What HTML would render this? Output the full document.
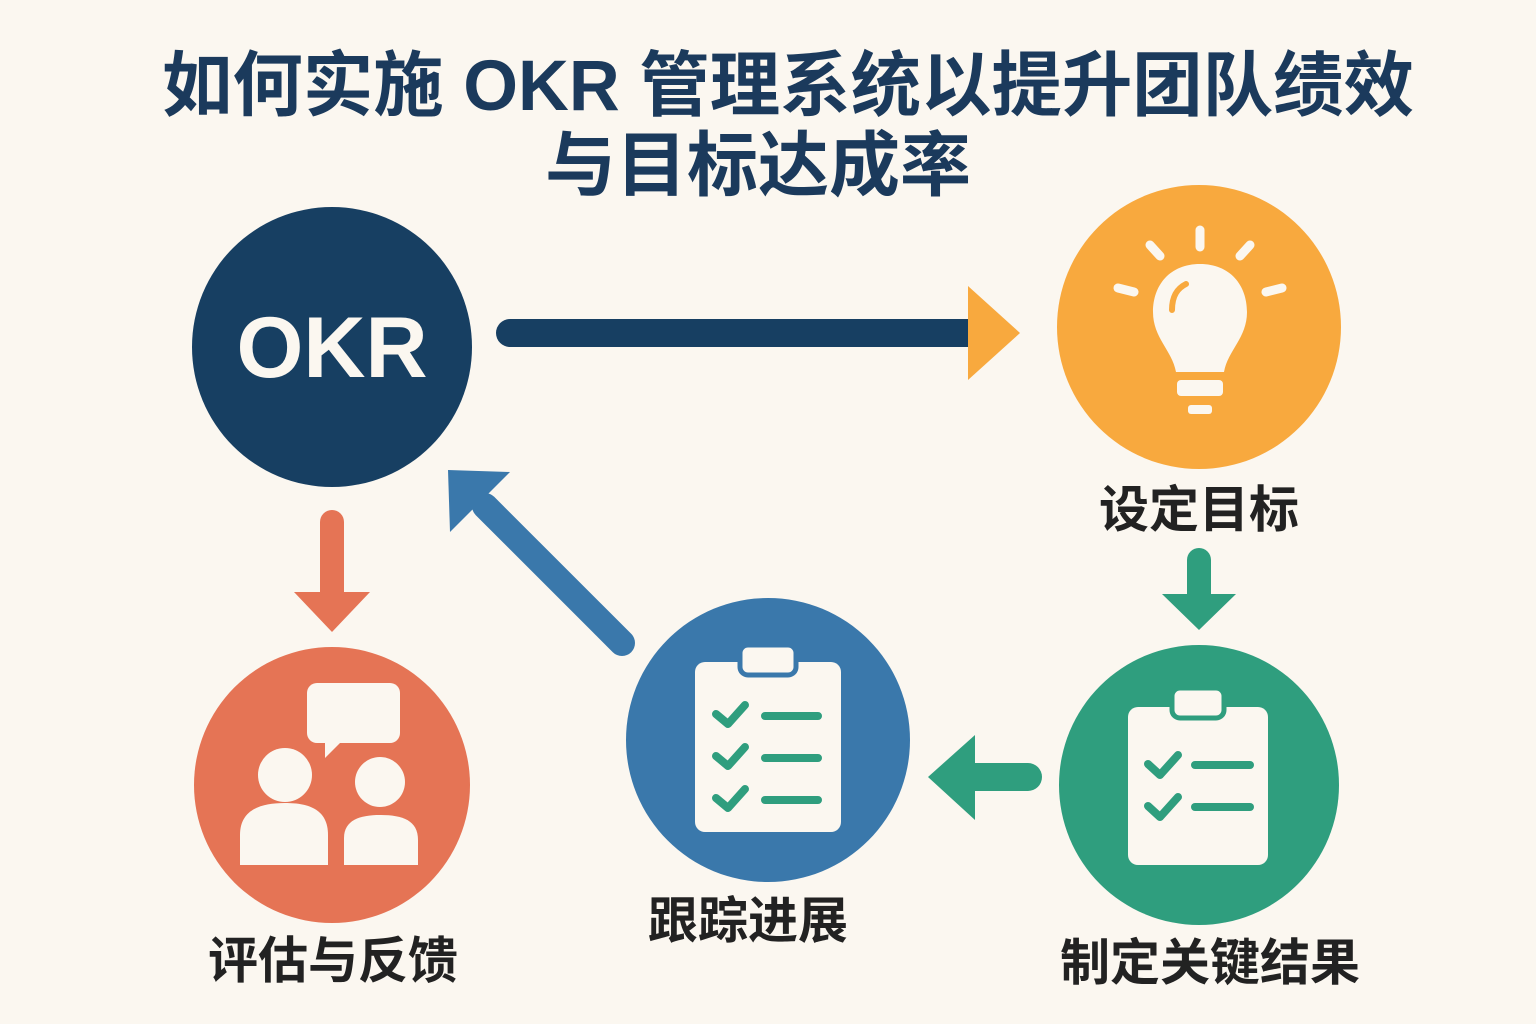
<!DOCTYPE html>
<html><head><meta charset="utf-8"><style>
body{margin:0;background:#fbf7f0;}
svg{display:block}
text{font-family:"Liberation Sans","Noto Sans CJK SC",sans-serif;font-weight:bold}
</style></head><body>
<svg width="1536" height="1024" viewBox="0 0 1536 1024">
<rect width="1536" height="1024" fill="#fbf7f0"/>
<text x="788" y="110" text-anchor="middle" font-size="71" fill="#1b3a5c" textLength="1252" lengthAdjust="spacingAndGlyphs">如何实施 OKR 管理系统以提升团队绩效</text>
<text x="758" y="190" text-anchor="middle" font-size="71" fill="#1b3a5c">与目标达成率</text>

<!-- arrows -->
<line x1="510" y1="333" x2="975" y2="333" stroke="#173f62" stroke-width="28" stroke-linecap="round"/>
<polygon points="968,286 1020,333 968,380" fill="#f8a93e"/>
<line x1="332" y1="522" x2="332" y2="600" stroke="#e57455" stroke-width="24" stroke-linecap="round"/>
<polygon points="294,592 370,592 332,632" fill="#e57455"/>
<line x1="1199" y1="560" x2="1199" y2="600" stroke="#2f9e7e" stroke-width="24" stroke-linecap="round"/>
<polygon points="1162,594 1236,594 1199,630" fill="#2f9e7e"/>
<line x1="1028" y1="777" x2="965" y2="777" stroke="#2f9e7e" stroke-width="28" stroke-linecap="round"/>
<polygon points="975,735 975,820 928,777" fill="#2f9e7e"/>
<line x1="622" y1="643" x2="485" y2="506" stroke="#3a78ab" stroke-width="26" stroke-linecap="round"/>
<polygon points="448,470 510,472 450,532" fill="#3a78ab"/>

<!-- circles -->
<circle cx="332" cy="347" r="140" fill="#173f62"/>
<text x="332" y="377" text-anchor="middle" font-size="86" fill="#fbf7f0">OKR</text>

<circle cx="1199" cy="327" r="142" fill="#f8a93e"/>
<g fill="#fbf7f0" stroke="#fbf7f0" stroke-linecap="round">
<line x1="1200" y1="230" x2="1200" y2="247" stroke-width="9"/>
<line x1="1150" y1="245" x2="1160" y2="256" stroke-width="9"/>
<line x1="1250" y1="245" x2="1240" y2="256" stroke-width="9"/>
<line x1="1118" y1="288" x2="1134" y2="292" stroke-width="9"/>
<line x1="1282" y1="288" x2="1266" y2="292" stroke-width="9"/>
<path d="M1200,264 C1230,264 1247,285 1247,312 C1247,338 1228,350 1224,372 L1176,372 C1172,350 1153,338 1153,312 C1153,285 1170,264 1200,264 Z" stroke="none"/>
<rect x="1177" y="380" width="46" height="16" rx="4" stroke="none"/>
<rect x="1188" y="405" width="24" height="9" rx="3" stroke="none"/>
</g>
<path d="M1172,310 C1172,295 1178,288 1186,284" stroke="#f8a93e" stroke-width="6" fill="none" stroke-linecap="round"/>
<text x="1199" y="527" text-anchor="middle" font-size="50" fill="#222">设定目标</text>

<circle cx="1199" cy="785" r="140" fill="#2f9e7e"/>
<rect x="1128" y="707" width="140" height="158" rx="10" fill="#fbf7f0"/>
<rect x="1172" y="688" width="52" height="30" rx="8" fill="#fbf7f0" stroke="#2f9e7e" stroke-width="5"/>
<g stroke="#2f9e7e" stroke-width="8" fill="none" stroke-linecap="round" stroke-linejoin="round">
<polyline points="1148,764 1160,775 1178,755"/><line x1="1195" y1="765" x2="1250" y2="765"/>
<polyline points="1148,806 1160,817 1178,797"/><line x1="1195" y1="807" x2="1250" y2="807"/>
</g>
<text x="1210" y="980" text-anchor="middle" font-size="50" fill="#222">制定关键结果</text>

<circle cx="768" cy="740" r="142" fill="#3a78ab"/>
<rect x="695" y="662" width="146" height="170" rx="10" fill="#fbf7f0"/>
<rect x="740" y="645" width="56" height="30" rx="8" fill="#fbf7f0" stroke="#3a78ab" stroke-width="5"/>
<g stroke="#2f9e7e" stroke-width="8" fill="none" stroke-linecap="round" stroke-linejoin="round">
<polyline points="716,714 728,724 745,705"/><line x1="765" y1="716" x2="818" y2="716"/>
<polyline points="716,756 728,766 745,747"/><line x1="765" y1="758" x2="818" y2="758"/>
<polyline points="716,798 728,808 745,789"/><line x1="765" y1="800" x2="818" y2="800"/>
</g>
<text x="748" y="938" text-anchor="middle" font-size="50" fill="#222">跟踪进展</text>

<circle cx="332" cy="785" r="138" fill="#e57455"/>
<g fill="#fbf7f0">
<rect x="307" y="683" width="93" height="60" rx="10"/>
<polygon points="325,738 345,738 325,758"/>
<circle cx="285" cy="775" r="27"/>
<path d="M240,865 L240,835 C240,810 260,803 285,803 C310,803 328,810 328,835 L328,865 Z"/>
<circle cx="380" cy="782" r="25"/>
<path d="M344,865 L344,838 C344,820 360,815 380,815 C402,815 418,820 418,840 L418,865 Z"/>
</g>
<text x="333" y="978" text-anchor="middle" font-size="50" fill="#222">评估与反馈</text>
</svg>
</body></html>
